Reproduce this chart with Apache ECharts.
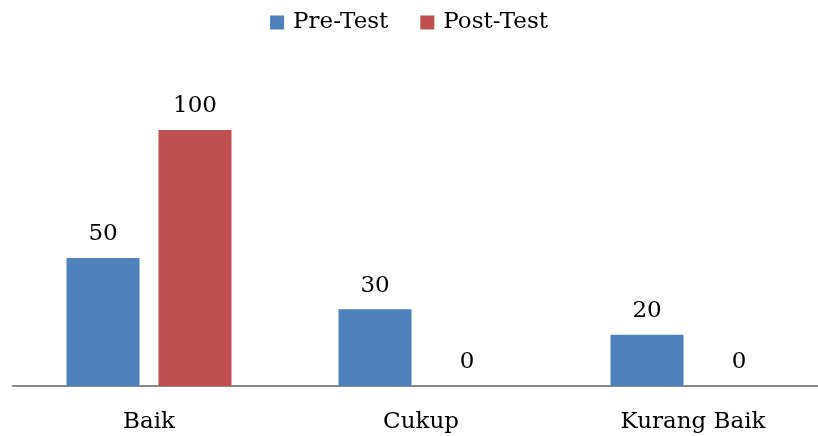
<!DOCTYPE html>
<html><head><meta charset="utf-8">
<script src="https://cdn.jsdelivr.net/npm/echarts@6/dist/echarts.min.js"></script>
<style>html,body{margin:0;padding:0;background:#fff}#c{width:818px;height:436px}</style>
</head><body><div id="c"></div>
<script>
const categories = ['Baik', 'Cukup', 'Kurang Baik'];
const preTest = [50, 30, 20];
const postTest = [100, 0, 0];
const seriesNames = ['Pre-Test', 'Post-Test'];
const FONT = 'DejaVu Serif';
const chart = echarts.init(document.getElementById('c'));
chart.setOption({
  animation: false,
  textStyle: { fontFamily: FONT },
  legend: {
    top: 6, left: 'center', itemWidth: 14, itemHeight: 14, itemGap: 32,
    icon: 'rect',
    textStyle: { fontFamily: FONT, fontSize: 23, color: '#000', padding: [0, 0, 0, 4] },
    data: seriesNames
  },
  grid: { left: 13, top: 130, right: -11, bottom: 50, outerBoundsMode: 'none', containLabel: false },
  xAxis: {
    type: 'category', data: categories,
    axisLine: { lineStyle: { color: '#898989', width: 2 } },
    axisTick: { show: false },
    axisLabel: { fontFamily: FONT, fontSize: 23, color: '#000', margin: 25 }
  },
  yAxis: { type: 'value', min: 0, max: 100, show: false, splitLine: { show: false } },
  series: [
    { name: seriesNames[0], type: 'bar', data: preTest, barWidth: 73, barGap: '26%',
      itemStyle: { color: '#4F81BD' },
      label: { show: true, position: 'top', distance: 12, fontFamily: FONT, fontSize: 23, color: '#000' } },
    { name: seriesNames[1], type: 'bar', data: postTest, barWidth: 73,
      itemStyle: { color: '#C0504D' },
      label: { show: true, position: 'top', distance: 12, fontFamily: FONT, fontSize: 23, color: '#000' } }
  ]
});
</script></body></html>
